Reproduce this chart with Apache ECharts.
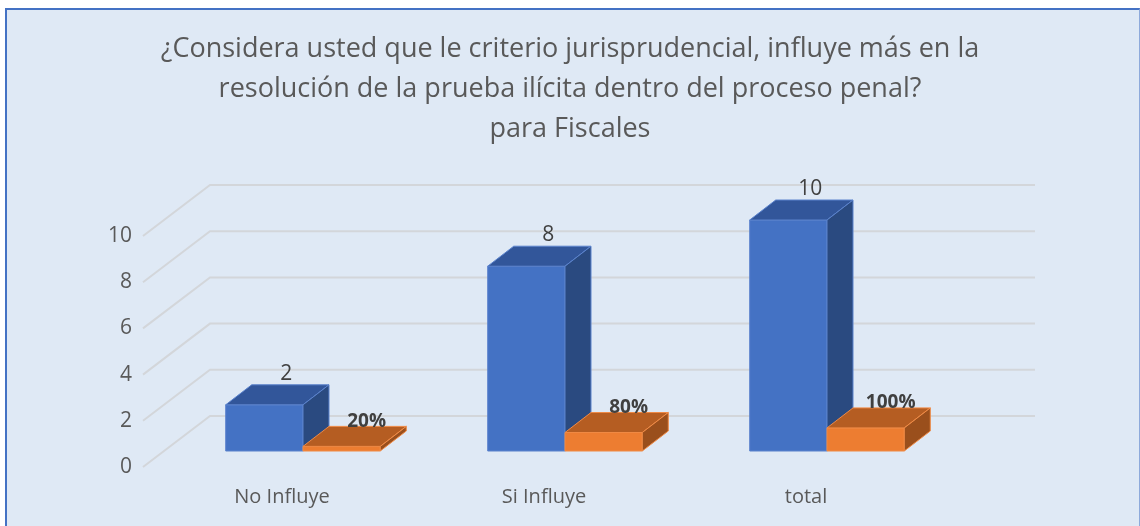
<!DOCTYPE html>
<html>
<head>
<meta charset="utf-8">
<script src="https://cdn.jsdelivr.net/npm/echarts@6/dist/echarts.min.js"></script>
<style>
  body { margin: 0; background: #ffffff; }
  #frame {
    position: absolute; left: 5px; top: 8px; width: 1132px; height: 540px;
    background: #dfe9f5;
    border-left: 2px solid #4472c4; border-top: 2px solid #4472c4; border-right: 1px solid #8eaadb;
  }
  #chart { position: absolute; left: 0; top: 0; width: 1140px; height: 526px; }
</style>
</head>
<body>
<div id="frame"></div>
<div id="chart"></div>
<script>
// datos del grafico
const categories = ['No Influye', 'Si Influye', 'total'];
const cantidad = [2, 8, 10];
const porcentaje = [0.2, 0.8, 1.0];
const porcentajeLabels = ['20%', '80%', '100%'];
const yTicks = [0, 2, 4, 6, 8, 10];

const FONT = 'Open Sans';

// desplazamientos de la perspectiva (pixeles)
const WALL_DX = 67, WALL_DY = -51;
const BAR_DX1 = 21, BAR_DY1 = -16;
const BAR_DX = 26, BAR_DY = -20;

const chart = echarts.init(document.getElementById('chart'));

// cuadricula 3D: pared izquierda + pared del fondo
function gridRender(params, api) {
  const cs = params.coordSys;
  const y = api.coord([0, api.value(1)])[1];
  const x0 = cs.x - 8;
  return {
    type: 'polyline',
    shape: { points: [[x0, y], [x0 + WALL_DX, y + WALL_DY], [cs.x + cs.width + 98, y + WALL_DY]] },
    style: { stroke: '#d3d6da', lineWidth: 2, fill: null }
  };
}

function barRender(side, colors, labels, labelStyle) {
  return function (params, api) {
    const i = api.value(0);
    const v = api.value(1);
    const band = api.size([1, 0])[0];
    const w = band * 0.295;
    const base = api.coord([i, 0]);
    const top = api.coord([i, v]);
    const fx = base[0] + BAR_DX1 + (side === 0 ? -w : 0);
    const by = base[1] + BAR_DY1;
    const ty = top[1] + BAR_DY1;
    return {
      type: 'group',
      children: [
        {
          type: 'rect',
          shape: { x: fx, y: ty, width: w, height: by - ty },
          style: { fill: colors.front, stroke: colors.edge, lineWidth: 1 }
        },
        {
          type: 'polygon',
          shape: { points: [[fx, ty], [fx + w, ty], [fx + w + BAR_DX, ty + BAR_DY], [fx + BAR_DX, ty + BAR_DY]] },
          style: { fill: colors.top, stroke: colors.edge, lineWidth: 1 }
        },
        {
          type: 'polygon',
          shape: { points: [[fx + w, ty], [fx + w + BAR_DX, ty + BAR_DY], [fx + w + BAR_DX, by + BAR_DY], [fx + w, by]] },
          style: { fill: colors.side, stroke: colors.edge, lineWidth: 1 }
        },
        {
          type: 'text',
          x: fx + w / 2 + labelStyle.dx,
          y: ty + BAR_DY - labelStyle.dy,
          style: {
            text: labels[params.dataIndex],
            fill: '#404040',
            fontSize: labelStyle.size,
            fontWeight: labelStyle.weight,
            fontFamily: FONT,
            align: 'center',
            verticalAlign: 'middle'
          }
        }
      ]
    };
  };
}

const option = {
  animation: false,
  title: {
    text: '¿Considera usted que le criterio jurisprudencial, influye más en la\nresolución de la prueba ilícita dentro del proceso penal?\npara Fiscales',
    left: 'center',
    top: 24,
    textStyle: { fontSize: 27, fontWeight: 'normal', color: '#595959', lineHeight: 40, fontFamily: FONT }
  },
  grid: { left: 151, right: 203, top: 236, bottom: 59 },
  xAxis: {
    type: 'category',
    data: categories,
    axisLine: { show: false },
    axisTick: { show: false },
    axisLabel: { color: '#595959', fontSize: 20, fontFamily: FONT, margin: 20 }
  },
  yAxis: {
    type: 'value',
    min: 0,
    max: 10,
    interval: 2,
    axisLine: { show: false },
    axisTick: { show: false },
    splitLine: { show: false },
    axisLabel: { color: '#595959', fontSize: 21, fontFamily: FONT, margin: 19 }
  },
  series: [
    {
      type: 'custom',
      silent: true,
      renderItem: gridRender,
      data: yTicks.map(v => [0, v])
    },
    {
      name: 'Cantidad',
      type: 'custom',
      renderItem: barRender(0, { front: '#4472c4', top: '#32569a', side: '#2a4a80', edge: '#5a82cc' },
        cantidad.map(String), { dx: 22, dy: 11, size: 21, weight: 'normal' }),
      data: cantidad.map((v, i) => [i, v])
    },
    {
      name: 'Porcentaje',
      type: 'custom',
      renderItem: barRender(1, { front: '#ed7d31', top: '#b55d22', side: '#9a4f1c', edge: '#f08a45' },
        porcentajeLabels, { dx: 25, dy: 5, size: 19, weight: 'bold' }),
      data: porcentaje.map((v, i) => [i, v])
    }
  ]
};

chart.setOption(option);
</script>
</body>
</html>
